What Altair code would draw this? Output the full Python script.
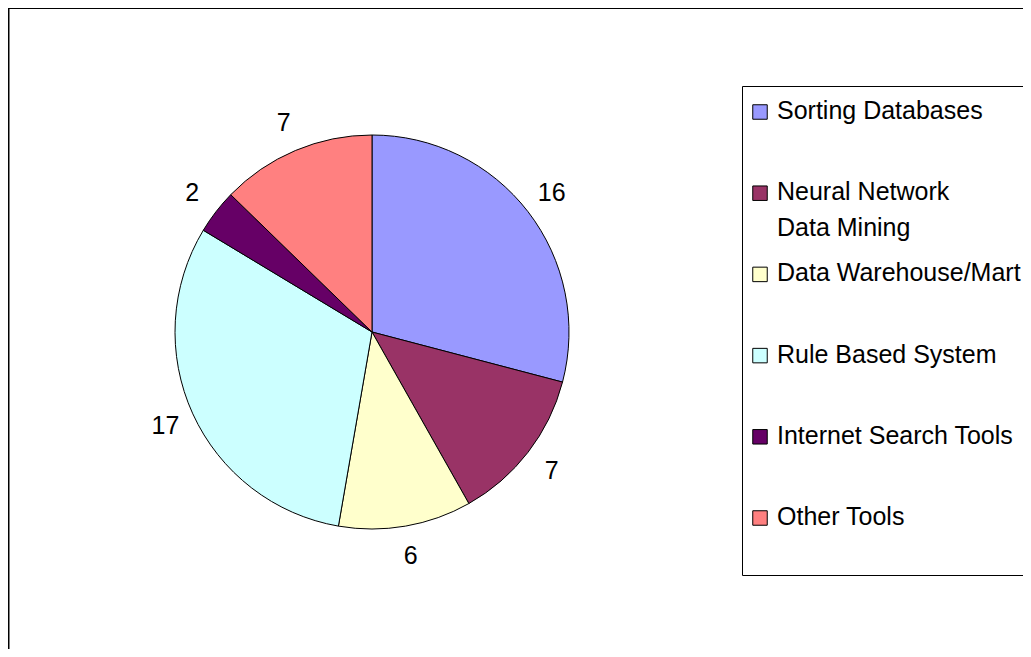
import altair as alt
import pandas as pd

categories = ["Sorting Databases", "Neural Network Data Mining", "Data Warehouse/Mart",
              "Rule Based System", "Internet Search Tools", "Other Tools"]
legend_labels = ["Sorting Databases", "Neural Network\nData Mining", "Data Warehouse/Mart",
                 "Rule Based System", "Internet Search Tools", "Other Tools"]
values = [16, 7, 6, 17, 2, 7]
colors = ["#9999FF", "#993366", "#FFFFCC", "#CCFFFF", "#660066", "#FF8080"]

df = pd.DataFrame({
    "Category": categories,
    "Label": legend_labels,
    "Value": values,
    "Order": list(range(len(categories))),
})

W, H = 1015, 641
CX, CY = 364, 324
R = 197
FONT = "Liberation Sans"

base = alt.Chart(df)
color = alt.Color("Category:N", scale=alt.Scale(domain=categories, range=colors), legend=None)
theta = alt.Theta("Value:Q", stack=True)
order = alt.Order("Order:Q")

pie = base.mark_arc(radius=R, stroke="black", strokeWidth=1).encode(
    theta=theta, order=order, color=color, x=alt.value(CX), y=alt.value(CY)
)

pie_labels = base.mark_text(radius=227, fontSize=25, font=FONT, color="black").encode(
    theta=theta, order=order, text="Value:Q", x=alt.value(CX), y=alt.value(CY)
)

one = alt.Chart(pd.DataFrame({"a": [0]}))
frame_top = one.mark_rule(color="black", strokeWidth=1).encode(
    x=alt.value(0), x2=alt.value(W), y=alt.value(0.5)
)
frame_left = one.mark_rule(color="black", strokeWidth=1.5).encode(
    x=alt.value(0.75), y=alt.value(0), y2=alt.value(H)
)

BX, BY0, BY1 = 734.5, 78.5, 567.5
box_fill = one.mark_rect(fill="white", strokeWidth=0).encode(
    x=alt.value(BX), x2=alt.value(W), y=alt.value(BY0), y2=alt.value(BY1)
)
box_top = one.mark_rule(color="black", strokeWidth=1).encode(
    x=alt.value(BX), x2=alt.value(W), y=alt.value(BY0)
)
box_bottom = one.mark_rule(color="black", strokeWidth=1).encode(
    x=alt.value(BX), x2=alt.value(W), y=alt.value(BY1)
)
box_left = one.mark_rule(color="black", strokeWidth=1).encode(
    x=alt.value(BX), y=alt.value(BY0), y2=alt.value(BY1)
)

yscale = alt.Scale(type="point", domain=categories, range=[104, 510], padding=0)
ly = alt.Y("Category:N", scale=yscale, axis=None)

legend_sym = base.mark_square(size=210, stroke="black", strokeWidth=1, opacity=1).encode(
    x=alt.value(752), y=ly, color=color
)
legend_txt = base.mark_text(align="left", baseline="top", dy=-13, fontSize=25, font=FONT,
                            lineHeight=36, lineBreak="\n", color="black").encode(
    x=alt.value(769), y=ly, text="Label:N"
)

chart = alt.layer(
    frame_top, frame_left, box_fill, box_top, box_bottom, box_left,
    pie, pie_labels, legend_sym, legend_txt
).properties(
    width=W, height=H, padding=0,
    autosize=alt.AutoSizeParams(type="none"),
    background="white",
).configure_view(stroke=None)

chart.save("out.html", embed_options={"renderer": "svg", "actions": False})
